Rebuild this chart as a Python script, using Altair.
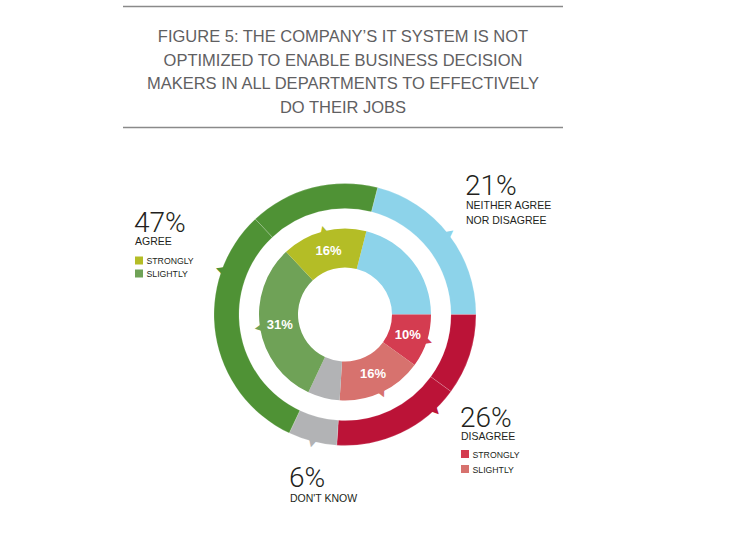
import altair as alt
import pandas as pd
import math

# ---- data ----
segments = ["Neither", "Disagree strongly", "Disagree slightly", "Don't know", "Agree slightly", "Agree strongly"]
groups = ["Neither", "Disagree", "Disagree", "Don't know", "Agree", "Agree"]
values = [21, 10, 16, 6, 31, 16]
inner_labels = ["", "10%", "16%", "", "31%", "16%"]

group_names = ["Neither", "Disagree", "Don't know", "Agree"]
group_values = [21, 26, 6, 47]

title_lines = [
    "FIGURE 5: THE COMPANY\u2019S IT SYSTEM IS NOT",
    "OPTIMIZED TO ENABLE BUSINESS DECISION",
    "MAKERS IN ALL DEPARTMENTS TO EFFECTIVELY",
    "DO THEIR JOBS",
]

# ---- styles ----
palette = {
    "Neither": "#8dd3ea", "Don't know": "#b2b3b5",
    "Disagree": "#bb1337", "Agree": "#4f9235",
    "Disagree strongly": "#d43c50", "Disagree slightly": "#d7726e",
    "Agree slightly": "#6fa257", "Agree strongly": "#b4bd26",
}

START_DEG = 14.4
CX, CY = 345, 314.5
theta_scale = alt.Scale(domain=[0, 100], range=[math.radians(START_DEG), math.radians(START_DEG) + 2 * math.pi])
color_scale = alt.Scale(domain=list(palette.keys()), range=list(palette.values()))

# ---- tables ----
ends = pd.Series(values).cumsum()
seg = pd.DataFrame({"seg": segments, "grp": groups, "value": values, "label": inner_labels})
seg["end"] = ends
seg["start"] = seg["end"] - seg["value"]
seg["mid"] = (seg["start"] + seg["end"]) / 2
seg["deg"] = (START_DEG + seg["mid"] * 3.6) % 360

gends = pd.Series(group_values).cumsum()
grp = pd.DataFrame({"grp": group_names, "value": group_values})
grp["end"] = gends
grp["start"] = grp["end"] - grp["value"]
grp["mid"] = (grp["start"] + grp["end"]) / 2
grp["deg"] = (START_DEG + grp["mid"] * 3.6) % 360

cx = alt.value(CX)
cy = alt.value(CY)

outer = alt.Chart(seg).mark_arc(outerRadius=131, innerRadius=106, stroke="white",
                               strokeWidth=0.5, strokeOpacity=0.35).encode(
    theta=alt.Theta("start:Q", scale=theta_scale, stack=None),
    theta2="end:Q",
    color=alt.Color("grp:N", scale=color_scale, legend=None),
    x=cx, y=cy,
)

inner = alt.Chart(seg).mark_arc(outerRadius=86, innerRadius=47).encode(
    theta=alt.Theta("start:Q", scale=theta_scale, stack=None),
    theta2="end:Q",
    color=alt.Color("seg:N", scale=color_scale, legend=None),
    x=cx, y=cy,
)

outer_ptr = alt.Chart(grp).mark_text(radius=133, text="\u25b2", fontSize=11, font="DejaVu Sans",
                                    baseline="middle", align="center").encode(
    theta=alt.Theta("mid:Q", scale=theta_scale, stack=None),
    angle=alt.Angle("deg:Q", scale=None),
    color=alt.Color("grp:N", scale=color_scale, legend=None),
    x=cx, y=cy,
)

inner_ptr = alt.Chart(seg[seg["label"] != ""]).mark_text(radius=88, text="\u25b2", fontSize=10,
                                                        font="DejaVu Sans", baseline="middle",
                                                        align="center").encode(
    theta=alt.Theta("mid:Q", scale=theta_scale, stack=None),
    angle=alt.Angle("deg:Q", scale=None),
    color=alt.Color("seg:N", scale=color_scale, legend=None),
    x=cx, y=cy,
)

inner_text = alt.Chart(seg).mark_text(radius=66, fontSize=13, fontWeight="bold", font="Liberation Sans",
                                     color="white", baseline="middle", align="center").encode(
    theta=alt.Theta("mid:Q", scale=theta_scale, stack=None),
    text="label:N",
    x=cx, y=cy,
)

# ---- title ----
rule_top = alt.Chart().mark_rule(color="#8a8a8a", strokeWidth=1.5).encode(
    x=alt.value(123), x2=alt.value(563), y=alt.value(6.5))
rule_bot = alt.Chart().mark_rule(color="#8a8a8a", strokeWidth=1.5).encode(
    x=alt.value(123), x2=alt.value(563), y=alt.value(127.5))
title = alt.Chart().mark_text(text=title_lines, fontSize=16.5, font="Liberation Sans", color="#5f6062",
                              align="center", baseline="alphabetic", lineHeight=23.7).encode(
    x=alt.value(343), y=alt.value(42))

# ---- annotations ----
TXT = "#231f20"

def big(txt, x, y):
    return alt.Chart().mark_text(text=txt, fontSize=28, font="Roboto", fontWeight=300, color=TXT,
                                 align="left", baseline="alphabetic").encode(x=alt.value(x), y=alt.value(y))

def small(txt, x, y, size=10.5):
    return alt.Chart().mark_text(text=txt, fontSize=size, font="Liberation Sans", color=TXT,
                                 align="left", baseline="alphabetic").encode(x=alt.value(x), y=alt.value(y))

def square(color, x, y):
    return alt.Chart().mark_rect(color=color).encode(
        x=alt.value(x), x2=alt.value(x + 8), y=alt.value(y), y2=alt.value(y + 8))

annotations = [
    big("47%", 134, 232), small("AGREE", 135, 245),
    square(palette["Agree strongly"], 135, 256.5), small("STRONGLY", 146.5, 264, 8.7),
    square(palette["Agree slightly"], 135, 269.5), small("SLIGHTLY", 146.5, 277, 8.7),
    big("21%", 465, 195), small("NEITHER AGREE", 466, 208.5), small("NOR DISAGREE", 466, 223.5),
    big("26%", 460, 427), small("DISAGREE", 461, 440),
    square(palette["Disagree strongly"], 461, 450), small("STRONGLY", 472.5, 458, 8.7),
    square(palette["Disagree slightly"], 461, 465), small("SLIGHTLY", 472.5, 473, 8.7),
    big("6%", 289, 487), small("DON'T KNOW", 290, 501.5),
]

chart = alt.layer(
    outer, inner, outer_ptr, inner_ptr, inner_text, rule_top, rule_bot, title, *annotations
).properties(width=729, height=549, autosize="none", padding=0, background="white"
).configure_view(stroke=None)

chart.save("out.html", embed_options={"renderer": "svg", "actions": False})
